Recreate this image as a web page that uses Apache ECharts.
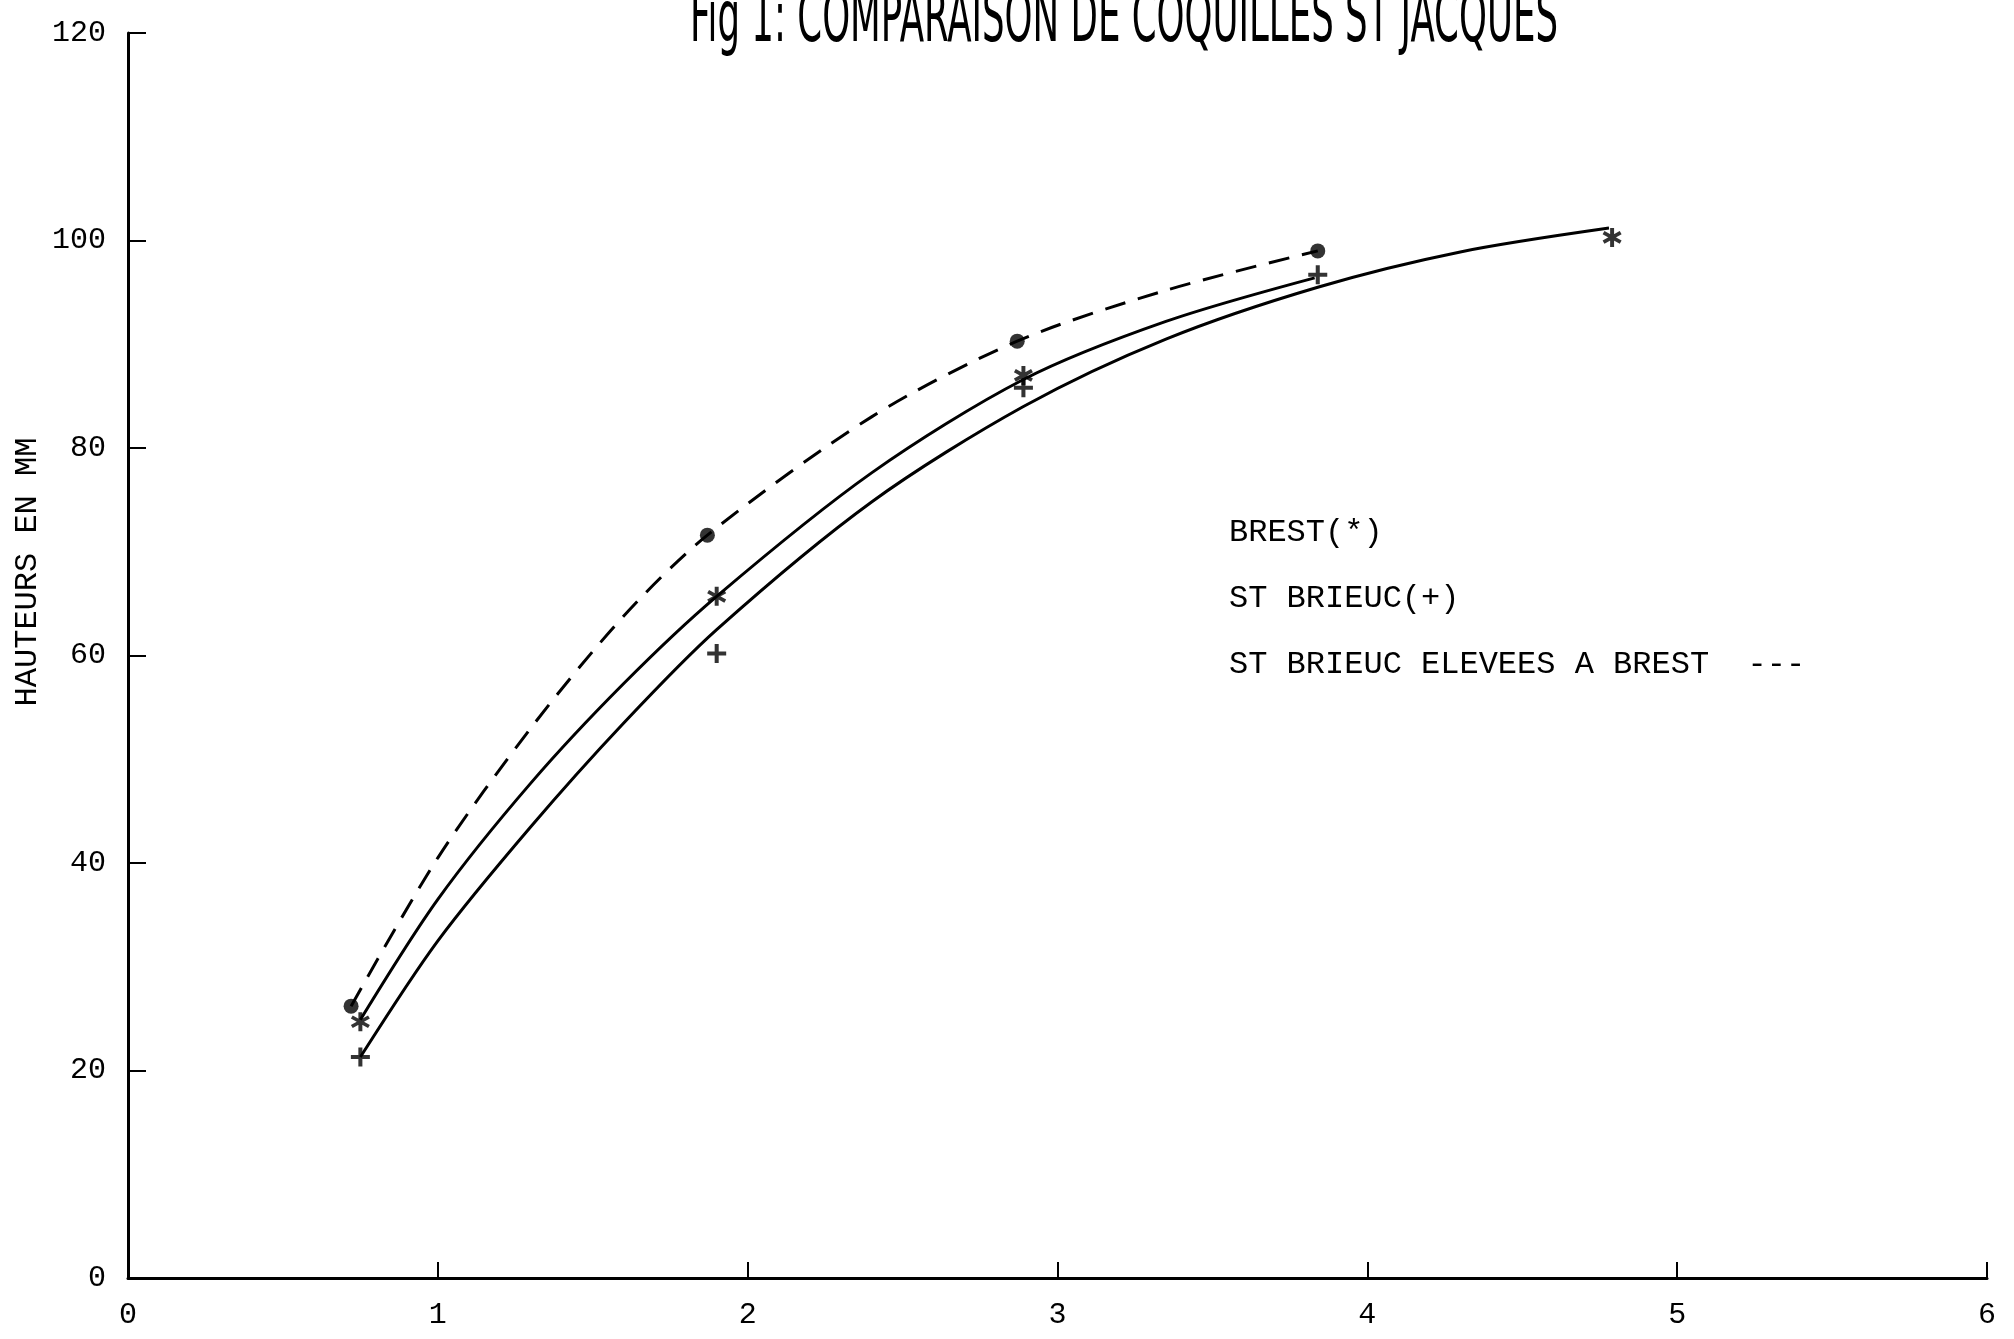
<!DOCTYPE html>
<html>
<head>
<meta charset="utf-8">
<style>
html,body{margin:0;padding:0;background:#fff;}
#chart{width:2014px;height:1339px;}
</style>
<script src="https://cdn.jsdelivr.net/npm/echarts@6/dist/echarts.min.js"></script>
</head>
<body>
<div id="chart"></div>
<script>
// ---- data ----
var TITLE = 'Fig 1: COMPARAISON DE COQUILLES ST JACQUES';
var Y_NAME = 'HAUTEURS EN MM';
var LEGEND_LINES = ['BREST(*)', 'ST BRIEUC(+)', 'ST BRIEUC ELEVEES A BREST  ---'];

var xTicks = [0, 1, 2, 3, 4, 5, 6];
var yTicks = [0, 20, 40, 60, 80, 100, 120];

// marks
var agesElevees = [0.72, 1.87, 2.87, 3.84];
var hautElevees = [26.2, 71.6, 90.3, 99.0];
var agesBrest = [0.75, 1.90, 2.89, 4.79];
var hautBrest = [24.7, 65.7, 87.0, 100.3];
var agesStBrieuc = [0.75, 1.90, 2.89, 3.84];
var hautStBrieuc = [21.3, 60.2, 85.8, 96.7];

// hand drawn curves
var agesCurveHigh = [0.75, 1.0, 1.3, 1.6, 1.90, 2.4, 2.89, 3.35, 3.83];
var hautCurveHigh = [24.9, 36.5, 47.7, 57.3, 65.7, 77.6, 86.6, 92.2, 96.4];
var agesCurveLow = [0.75, 1.0, 1.3, 1.6, 1.90, 2.4, 2.89, 3.35, 3.84, 4.3, 4.78];
var hautCurveLow = [21.3, 32.5, 43.5, 53.5, 62.5, 74.8, 84.0, 90.5, 95.5, 98.9, 101.2];
var agesCurveDash = [0.72, 1.0, 1.3, 1.6, 1.87, 2.4, 2.87, 3.35, 3.84];
var hautCurveDash = [26.2, 40.5, 53.0, 63.8, 71.6, 83.0, 90.3, 95.2, 99.0];

function pairs(xs, ys) { return xs.map(function (x, i) { return [x, ys[i]]; }); }

var PLUS = 'path://M-1.7,-8L1.7,-8L1.7,-1.7L8,-1.7L8,1.7L1.7,1.7L1.7,8L-1.7,8L-1.7,1.7L-8,1.7L-8,-1.7L-1.7,-1.7Z';
var STAR = 'path://M1.6,8L-1.6,8L-1.6,-8L1.6,-8Z' +
  'M7.68,2.7L6.18,5.3L-7.68,-2.7L-6.18,-5.3Z' +
  'M-6.18,5.3L-7.68,2.7L6.18,-5.3L7.68,-2.7Z';

var ink = '#000';
var monoFont = "'Liberation Mono', 'DejaVu Sans Mono', monospace";
var titleFont = "'Liberation Sans Narrow', 'DejaVu Sans Condensed', sans-serif";

// compress the title to the width it has in the reference
var titleSize = 72;
var cv = document.createElement('canvas').getContext('2d');
cv.font = titleSize + 'px ' + titleFont;
var titleW = cv.measureText(TITLE).width;
var titleScale = 868 / titleW;

var chart = echarts.init(document.getElementById('chart'), null, { renderer: 'canvas' });
chart.setOption({
  backgroundColor: '#fff',
  animation: false,
  grid: { left: 128, right: 27, top: 33, bottom: 61, containLabel: false },
  xAxis: {
    type: 'value', min: xTicks[0], max: xTicks[xTicks.length - 1], interval: 1,
    axisLine: { show: true, onZero: false, lineStyle: { color: ink, width: 3 } },
    axisTick: { show: true, inside: true, length: 16, lineStyle: { color: ink, width: 2 } },
    axisLabel: { color: ink, fontFamily: monoFont, fontSize: 30, margin: 22 },
    splitLine: { show: false }
  },
  yAxis: {
    type: 'value', min: yTicks[0], max: yTicks[yTicks.length - 1], interval: 20,
    axisLine: { show: true, onZero: false, lineStyle: { color: ink, width: 3 } },
    axisTick: { show: true, inside: true, length: 18, lineStyle: { color: ink, width: 2 } },
    axisLabel: { color: ink, fontFamily: monoFont, fontSize: 30, margin: 22 },
    splitLine: { show: false }
  },
  graphic: [
    {
      type: 'text', x: 1124, y: 22, scaleX: titleScale,
      style: { text: TITLE, font: titleSize + 'px ' + titleFont, fill: ink, align: 'center', verticalAlign: 'middle' }
    },
    {
      type: 'text', x: 28, y: 572, rotation: Math.PI / 2,
      style: { text: Y_NAME, font: '32px ' + monoFont, fill: ink, align: 'center', verticalAlign: 'middle' }
    },
    {
      type: 'text', x: 1229, y: 533,
      style: { text: LEGEND_LINES[0], font: '32px ' + monoFont, fill: ink, align: 'left', verticalAlign: 'middle' }
    },
    {
      type: 'text', x: 1229, y: 599,
      style: { text: LEGEND_LINES[1], font: '32px ' + monoFont, fill: ink, align: 'left', verticalAlign: 'middle' }
    },
    {
      type: 'text', x: 1229, y: 665,
      style: { text: LEGEND_LINES[2], font: '32px ' + monoFont, fill: ink, align: 'left', verticalAlign: 'middle' }
    }
  ],
  series: [
    {
      name: 'Courbe haute', type: 'line', data: pairs(agesCurveHigh, hautCurveHigh),
      smooth: 0.3, showSymbol: false, symbol: 'none',
      lineStyle: { color: ink, width: 3 }, z: 2
    },
    {
      name: 'Courbe basse', type: 'line', data: pairs(agesCurveLow, hautCurveLow),
      smooth: 0.3, showSymbol: false, symbol: 'none',
      lineStyle: { color: ink, width: 3 }, z: 2
    },
    {
      name: 'ST BRIEUC ELEVEES A BREST', type: 'line', data: pairs(agesCurveDash, hautCurveDash),
      smooth: 0.3, showSymbol: false, symbol: 'none',
      lineStyle: { color: ink, width: 3, type: [21, 13] }, z: 2
    },
    {
      name: 'BREST', type: 'scatter', data: pairs(agesBrest, hautBrest),
      symbol: STAR, symbolSize: 19, itemStyle: { color: ink }, z: 3
    },
    {
      name: 'ST BRIEUC', type: 'scatter', data: pairs(agesStBrieuc, hautStBrieuc),
      symbol: PLUS, symbolSize: 19, itemStyle: { color: ink }, z: 3
    },
    {
      name: 'ST BRIEUC ELEVEES A BREST (points)', type: 'scatter', data: pairs(agesElevees, hautElevees),
      symbol: 'circle', symbolSize: 15, itemStyle: { color: ink }, z: 3
    }
  ]
});
</script>
</body>
</html>
